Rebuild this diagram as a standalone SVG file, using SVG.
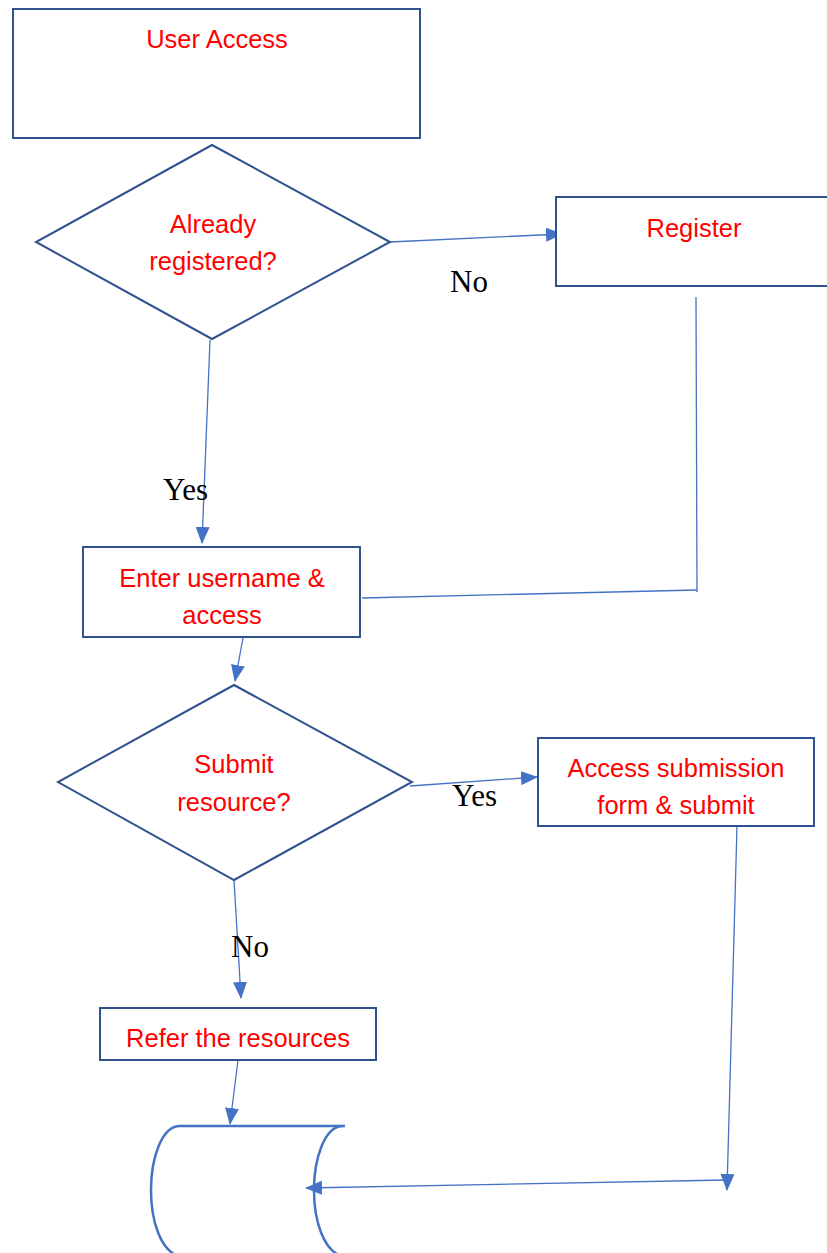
<svg xmlns="http://www.w3.org/2000/svg" width="827" height="1253" viewBox="0 0 827 1253">
<defs>
<style>
.node{fill:#fff;stroke:#2F528F;stroke-width:2}
.t{font-family:"Liberation Sans",Arial,sans-serif;font-size:25.5px;fill:#FF0000;text-anchor:middle}
.lbl{font-family:"Liberation Serif","Times New Roman",serif;font-size:31px;fill:#000}
.c{fill:none;stroke:#4472C4;stroke-width:1.3}
.cyl{fill:none;stroke:#4472C4;stroke-width:2.5}
</style>
<marker id="ah" markerUnits="userSpaceOnUse" markerWidth="17" markerHeight="14" refX="16" refY="7" orient="auto">
<path d="M0,0 L17,7 L0,14 Z" fill="#4472C4"/>
</marker>
</defs>
<rect width="827" height="1253" fill="#fff"/>
<g id="connectors">
<line class="c" x1="390" y1="242" x2="562" y2="234" marker-end="url(#ah)"/>
<line class="c" x1="210" y1="340" x2="202" y2="543" marker-end="url(#ah)"/>
<line class="c" x1="696" y1="297" x2="697" y2="592"/>
<line class="c" x1="697" y1="590" x2="362" y2="598"/>
<line class="c" x1="243" y1="638" x2="235" y2="681" marker-end="url(#ah)"/>
<line class="c" x1="410" y1="786" x2="537" y2="777" marker-end="url(#ah)"/>
<line class="c" x1="234" y1="880" x2="241" y2="998" marker-end="url(#ah)"/>
<line class="c" x1="737" y1="826" x2="727" y2="1190" marker-end="url(#ah)"/>
<line class="c" x1="727" y1="1180" x2="306" y2="1188" marker-end="url(#ah)"/>
<line class="c" x1="238" y1="1060" x2="230" y2="1124" marker-end="url(#ah)"/>
</g>
<g id="user-access">
<rect class="node" x="13" y="9" width="407" height="129"/>
<text class="t" x="217" y="48">User Access</text>
</g>
<g id="already-registered">
<polygon class="node" points="212,145 390,242 212,339 36,242"/>
<text class="t" x="213" y="233">Already</text>
<text class="t" x="213" y="270">registered?</text>
</g>
<g id="register">
<rect class="node" x="556" y="197" width="300" height="89"/>
<text class="t" x="694" y="237">Register</text>
</g>
<g id="enter-username">
<rect class="node" x="83" y="547" width="277" height="90"/>
<text class="t" x="222" y="587">Enter username &amp;</text>
<text class="t" x="222" y="624">access</text>
</g>
<g id="submit-resource">
<polygon class="node" points="234,685 412,782 234,880 58,782"/>
<text class="t" x="234" y="773">Submit</text>
<text class="t" x="234" y="811">resource?</text>
</g>
<g id="access-submission">
<rect class="node" x="538" y="738" width="276" height="88"/>
<text class="t" x="676" y="777">Access submission</text>
<text class="t" x="676" y="814">form &amp; submit</text>
</g>
<g id="refer-resources">
<rect class="node" x="100" y="1008" width="276" height="52"/>
<text class="t" x="238" y="1047">Refer the resources</text>
</g>
<g id="storage">
<path class="cyl" d="M345,1126 L180,1126 C161,1126 151,1160 151,1190 C151,1222 161,1250 178,1256"/>
<path class="cyl" d="M343,1126 C324,1126 314,1160 314,1190 C314,1222 324,1250 341,1256"/>
</g>
<g id="labels">
<text class="lbl" x="450" y="292">No</text>
<text class="lbl" x="163" y="500">Yes</text>
<text class="lbl" x="452" y="806">Yes</text>
<text class="lbl" x="231" y="957">No</text>
</g>
</svg>
